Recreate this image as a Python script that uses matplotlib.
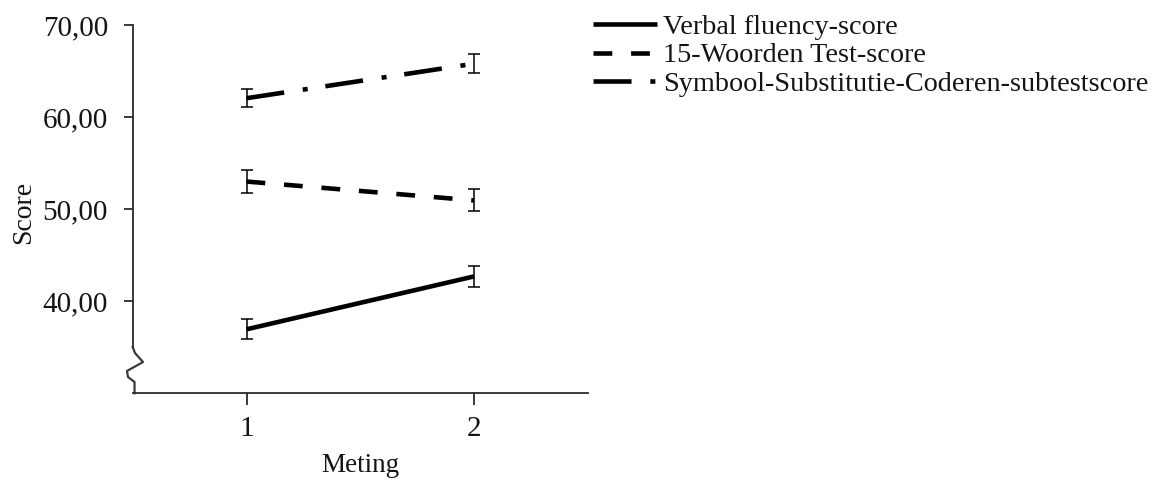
import matplotlib
matplotlib.use("Agg")
import matplotlib.pyplot as plt

plt.rcParams['font.family'] = ['Liberation Serif', 'DejaVu Serif']

# Data: mean scores per measurement moment, with error bar half-widths
meting = [1, 2]
verbal_fluency = [36.95, 42.7]
verbal_fluency_err = [1.1, 1.1]
woorden_test = [53.0, 50.95]
woorden_test_err = [1.25, 1.2]
symbool_sub = [62.05, 65.8]
symbool_sub_err = [0.95, 1.05]

series_labels = ["Verbal fluency-score",
                 "15-Woorden Test-score",
                 "Symbool-Substitutie-Coderen-subtestscore"]
y_ticks = [40, 50, 60, 70]
y_ticklabels = ["40,00", "50,00", "60,00", "70,00"]
x_ticklabels = ["1", "2"]

text_color = "#141414"
axis_color = "#2b2b2b"
lw = 3.3

fig = plt.figure(figsize=(11.52, 4.8), dpi=100)
ax = fig.add_axes([0.1152, 0.1806, 0.3952, 0.7673])

styles = [
    dict(linestyle='-'),
    dict(dashes=(4.1, 4.1)),
    dict(dashes=(8.3, 4.1, 1.1, 3.9)),
]
series = [(verbal_fluency, verbal_fluency_err),
          (woorden_test, woorden_test_err),
          (symbool_sub, symbool_sub_err)]

handles = []
for (vals, errs), st, lab in zip(series, styles, series_labels):
    ln, = ax.plot(meting, vals, color='black', lw=lw, label=lab,
                  solid_capstyle='butt', dash_capstyle='butt', **st)
    ax.errorbar(meting, vals, yerr=errs, fmt='none', ecolor='black',
                elinewidth=1.1, capsize=4.3, capthick=1.1)
    handles.append(ln)

ax.set_xlim(0.5, 2.5)
ax.set_ylim(30, 70)
ax.set_xticks(meting)
ax.set_xticklabels(x_ticklabels)
ax.set_yticks(y_ticks)
ax.set_yticklabels(y_ticklabels)

for s in ['top', 'right']:
    ax.spines[s].set_visible(False)
for s in ['left', 'bottom']:
    ax.spines[s].set_color(axis_color)
    ax.spines[s].set_linewidth(1.3)
ax.spines['left'].set_bounds(35.0, 70)

# axis break marker on the y axis
zx = [0, 0.005, 0.0226, -0.0125, -0.0103, 0.004, 0.004]
zy = [0.1257, 0.1094, 0.085, 0.0606, 0.0443, 0.0307, 0]
ax.plot(zx, zy, transform=ax.transAxes, color="#3a3a3a", lw=1.6,
        clip_on=False, solid_joinstyle='round')

ax.tick_params(axis='y', direction='out', length=6.8, width=1.3,
               color=axis_color, pad=11, labelsize=21, labelcolor=text_color)
ax.tick_params(axis='x', direction='out', length=8.4, width=1.3,
               color=axis_color, pad=8, labelsize=21, labelcolor=text_color)

ax.set_ylabel("Score", fontsize=20, color=text_color)
ax.yaxis.set_label_coords(-0.212, 0.49)
ax.set_xlabel("Meting", fontsize=19.5, color=text_color)
ax.xaxis.set_label_coords(0.5, -0.163)

leg = fig.legend(handles=handles, labels=series_labels,
                 loc='upper left', bbox_to_anchor=(0.5148, 0.97),
                 frameon=False, fontsize=20.3, handlelength=2.27,
                 handletextpad=0.2, labelspacing=0.09, borderpad=0,
                 borderaxespad=0)
for t in leg.get_texts():
    t.set_color(text_color)

fig.savefig("out.png", dpi=100)
